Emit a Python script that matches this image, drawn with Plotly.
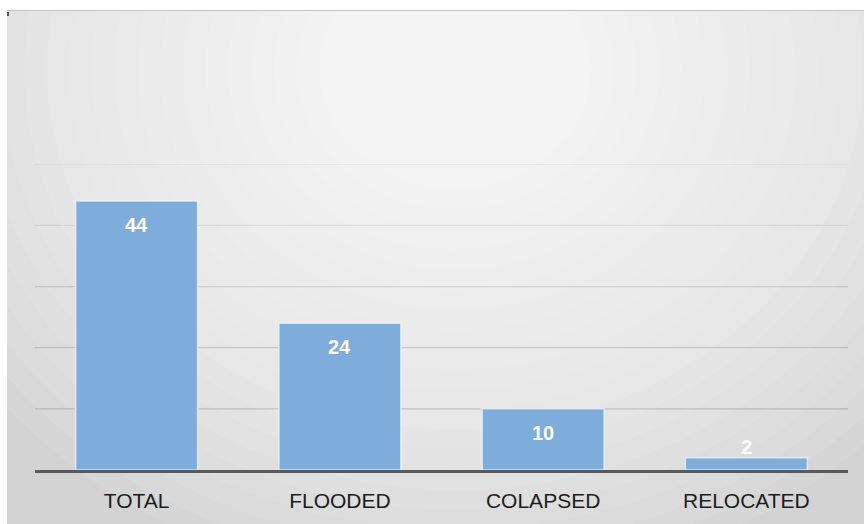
import plotly.graph_objects as go

# Data
categories = ["TOTAL", "FLOODED", "COLAPSED", "RELOCATED"]
counts = [44, 24, 10, 2]
y_ticks = [10, 20, 30, 40, 50, 60]
# gridlines fade out toward the top of the chart
grid_alpha = [0.16, 0.14, 0.11, 0.075, 0.045, 0.0]

W, H = 864, 524
M_L, M_R, M_T, M_B = 35, 16, 42, 54
PW, PH = W - M_L - M_R, H - M_T - M_B


def px(x):
    """Pixel x -> paper x."""
    return (x - M_L) / PW


def py(y):
    """Pixel y (from top) -> paper y."""
    return (H - M_B - y) / PH


shapes = []

# Grey panel behind the chart
shapes.append(dict(type="rect", xref="paper", yref="paper",
                   x0=px(7), x1=px(W + 2), y0=py(10), y1=py(H + 2),
                   fillcolor="#d3d3d3", line_width=0, layer="below"))

# Soft radial highlight built from stacked translucent ellipses
N = 26
cx, cy = 455, 70
for i in range(N):
    f = 1 - i / N
    rx, ry = 590 * f, 520 * f
    shapes.append(dict(type="circle", xref="paper", yref="paper",
                       x0=px(cx - rx), x1=px(cx + rx),
                       y0=py(cy + ry), y1=py(cy - ry),
                       fillcolor="rgba(255,255,255,0.075)", line_width=0,
                       layer="below"))

# White page edges outside the panel
shapes.append(dict(type="rect", xref="paper", yref="paper",
                   x0=px(-5), x1=px(7), y0=py(H + 5), y1=py(-5),
                   fillcolor="white", line_width=0, layer="below"))
shapes.append(dict(type="rect", xref="paper", yref="paper",
                   x0=px(-5), x1=px(W + 5), y0=py(10), y1=py(-5),
                   fillcolor="white", line_width=0, layer="below"))
# thin top rule of the panel
shapes.append(dict(type="line", xref="paper", yref="paper",
                   x0=px(7), x1=px(W), y0=py(10.5), y1=py(10.5),
                   line=dict(color="#c4c4c4", width=1), layer="below"))
# small mark at the panel's top-left corner
shapes.append(dict(type="rect", xref="paper", yref="paper",
                   x0=px(7), x1=px(9), y0=py(16), y1=py(12),
                   fillcolor="#555555", line_width=0, layer="below"))

# Horizontal gridlines
for t, a in zip(y_ticks, grid_alpha):
    if a <= 0:
        continue
    shapes.append(dict(type="line", xref="paper", yref="y",
                       x0=0, x1=1, y0=t, y1=t,
                       line=dict(color=f"rgba(0,0,0,{a})", width=1.2),
                       layer="below"))

fig = go.Figure()
fig.add_trace(go.Bar(
    x=categories,
    y=counts,
    width=0.6,
    marker=dict(color="#7eaddb",
                line=dict(color="rgba(240,246,252,0.75)", width=1.5)),
    hoverinfo="skip",
))

# Value labels: inside near the top for tall bars, just above short ones
annotations = []
for cat, v in zip(categories, counts):
    inside = v >= 5
    annotations.append(dict(
        x=cat, y=v, xref="x", yref="y",
        text=str(v), showarrow=False,
        yanchor="middle", yshift=-24 if inside else 11,
        font=dict(family="Liberation Sans, Arial, sans-serif",
                  size=20, color="white", weight="bold"),
    ))

fig.update_layout(
    width=W, height=H,
    margin=dict(l=M_L, r=M_R, t=M_T, b=M_B),
    paper_bgcolor="white",
    plot_bgcolor="rgba(0,0,0,0)",
    shapes=shapes,
    annotations=annotations,
    showlegend=False,
    bargap=0.4,
    xaxis=dict(
        showgrid=False, showline=True, linecolor="#5a5a5a", linewidth=3,
        ticks="", ticklabelstandoff=10,
        tickfont=dict(family="Liberation Sans, Arial, sans-serif",
                      size=21, color="#1c1c1c"),
        fixedrange=True,
    ),
    yaxis=dict(
        range=[0, 70], showticklabels=False, showgrid=False,
        zeroline=False, showline=False, ticks="", fixedrange=True,
    ),
)

fig.write_html("out.html", config={"displayModeBar": False})
